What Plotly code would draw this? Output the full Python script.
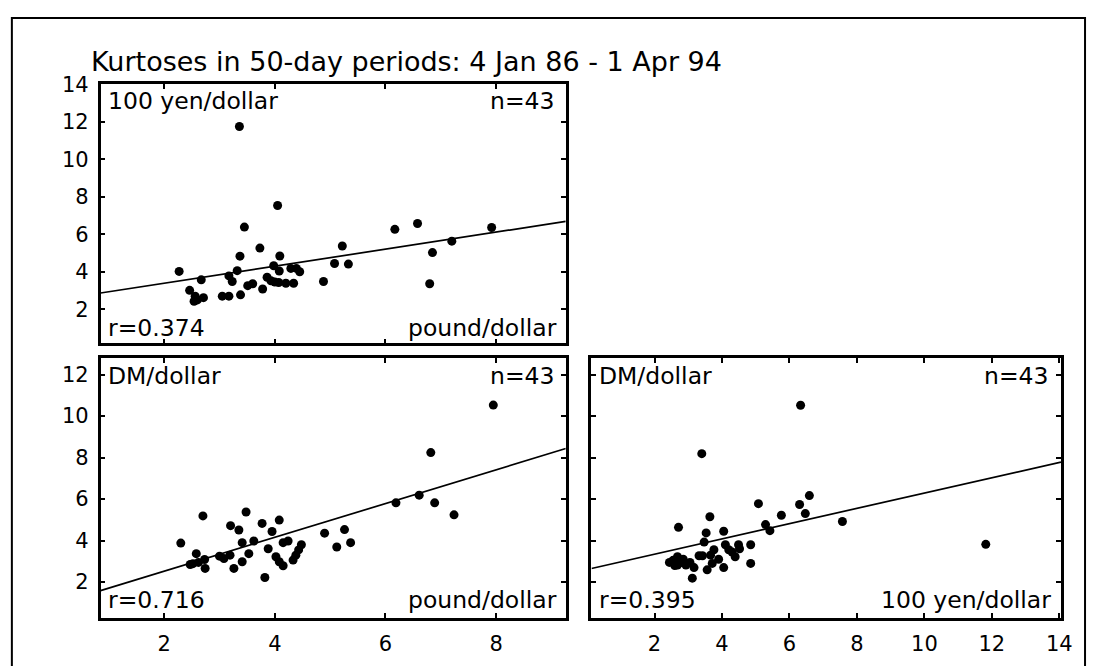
import plotly.graph_objects as go

# ---------------- data ----------------
# Panel A: x = pound/dollar kurtosis, y = 100 yen/dollar kurtosis
pound_a = [3.36, 4.05, 3.45, 3.73, 3.37, 4.09, 5.22, 2.27, 2.67, 2.46,
           2.56, 2.54, 2.71, 3.05, 3.17, 3.38, 3.17, 3.23, 3.32, 3.51,
           3.60, 3.78, 3.86, 3.93, 4.07, 3.98, 4.08, 4.20, 4.34, 4.29,
           4.39, 4.45, 4.88, 5.08, 5.33, 6.17, 6.58, 6.85, 6.80, 7.20,
           7.92, 2.60, 4.00]
yen_a = [11.74, 7.53, 6.38, 5.26, 4.83, 4.84, 5.37, 4.02, 3.57, 3.01,
         2.70, 2.43, 2.62, 2.70, 2.70, 2.77, 3.78, 3.48, 4.06, 3.26,
         3.36, 3.08, 3.71, 3.52, 3.43, 4.32, 4.04, 3.39, 3.39, 4.18,
         4.18, 4.00, 3.48, 4.44, 4.41, 6.26, 6.57, 5.02, 3.36, 5.63,
         6.36, 2.50, 3.45]

# Panel B: x = pound/dollar kurtosis, y = DM/dollar kurtosis
pound_b = [2.70, 3.48, 2.30, 3.20, 3.35, 3.77, 4.08, 3.95, 3.41, 3.62,
           3.88, 4.15, 4.24, 2.58, 2.52, 2.47, 2.73, 2.74, 3.08, 3.19,
           3.26, 3.41, 3.53, 4.02, 4.08, 4.15, 4.33, 4.38, 4.43, 4.48,
           3.82, 4.90, 5.26, 5.12, 5.37, 7.95, 6.82, 6.19, 6.61, 6.89,
           7.24, 2.62, 3.00]
dm_b = [5.19, 5.38, 3.88, 4.72, 4.51, 4.83, 4.99, 4.44, 3.90, 3.98,
        3.61, 3.90, 3.98, 3.37, 2.89, 2.85, 3.09, 2.66, 3.14, 3.30,
        2.66, 2.98, 3.37, 3.22, 2.98, 2.79, 3.06, 3.30, 3.55, 3.80,
        2.22, 4.36, 4.53, 3.69, 3.90, 10.53, 8.24, 5.82, 6.19, 5.82,
        5.24, 2.95, 3.25]

# Panel C: x = 100 yen/dollar kurtosis, y = DM/dollar kurtosis
yen_c = [3.40, 2.71, 3.64, 5.08, 5.76, 5.29, 5.42, 3.53, 4.05, 3.47,
         3.76, 3.66, 4.10, 4.20, 4.49, 4.52, 4.85, 4.39, 4.85, 4.05,
         3.32, 3.42, 2.44, 2.68, 2.68, 2.93, 3.17, 3.56, 3.12, 6.30,
         6.33, 6.59, 6.47, 7.57, 11.82, 3.71, 2.55, 2.85, 2.80, 3.05,
         3.90, 4.30, 2.60]
dm_c = [8.19, 4.64, 5.15, 5.78, 5.22, 4.77, 4.48, 4.37, 4.45, 3.93,
        3.56, 3.30, 3.80, 3.56, 3.80, 3.61, 3.80, 3.22, 2.90, 2.70,
        3.27, 3.27, 2.95, 3.22, 2.82, 2.82, 2.70, 2.59, 2.19, 5.74,
        10.52, 6.17, 5.30, 4.92, 3.82, 2.90, 3.05, 3.10, 2.95, 2.95,
        3.10, 3.45, 2.80]

# fitted regression lines (intercept, slope) as drawn
fit_a = (2.48, 0.454)
fit_b = (0.90, 0.814)
fit_c = (2.61, 0.368)

titles = ["Kurtoses in 50-day periods: 4 Jan 86 - 1 Apr 94"]
panel_y_names = ["100 yen/dollar", "DM/dollar", "DM/dollar"]
panel_x_names = ["pound/dollar", "pound/dollar", "100 yen/dollar"]
panel_r = ["r=0.374", "r=0.716", "r=0.395"]
panel_n = ["n=43", "n=43", "n=43"]
x_ticks_pound = [2, 4, 6, 8]
x_ticks_yen = [2, 4, 6, 8, 10, 12, 14]
y_ticks_a = [2, 4, 6, 8, 10, 12, 14]
y_ticks_b = [2, 4, 6, 8, 10, 12]

# ---------------- layout geometry ----------------
W, H = 1100, 666
FONT = "DejaVu Sans"


def px(x):
    return x / W


def py(y):
    return 1 - y / H


xr_pound = [0.85, 9.26]
xr_yen = [0.13, 14.05]
yr_top = [0.18, 14.02]
yr_bot = [0.28, 12.79]

fig = go.Figure()

panels = [
    (pound_a, yen_a, fit_a, "x", "y", xr_pound),
    (pound_b, dm_b, fit_b, "x2", "y2", xr_pound),
    (yen_c, dm_c, fit_c, "x3", "y3", xr_yen),
]
for xs, ys, (b0, b1), xa, ya, xr in panels:
    lx = [xr[0], xr[1]]
    fig.add_trace(go.Scatter(x=lx, y=[b0 + b1 * v for v in lx], mode="lines",
                             line=dict(color="black", width=1.7),
                             xaxis=xa, yaxis=ya, showlegend=False,
                             hoverinfo="skip"))
    fig.add_trace(go.Scatter(x=xs, y=ys, mode="markers",
                             marker=dict(color="black", size=9),
                             xaxis=xa, yaxis=ya, showlegend=False))

axis_common = dict(showline=True, linecolor="black", linewidth=2.5,
                   mirror="ticks", ticks="inside", ticklen=5, tickwidth=1.5,
                   tickcolor="black", showgrid=False, zeroline=False,
                   tickfont=dict(family=FONT, size=21, color="black"))

fig.update_layout(
    width=W, height=H, margin=dict(l=0, r=0, t=0, b=0),
    paper_bgcolor="white", plot_bgcolor="white",
    font=dict(family=FONT, color="black"),
    xaxis=dict(domain=[px(101.7), px(572)], range=xr_pound,
               tickvals=x_ticks_pound, showticklabels=False,
               anchor="y", **axis_common),
    yaxis=dict(domain=[py(338), py(74)], range=yr_top,
               tickvals=y_ticks_a, anchor="x", ticklabelstandoff=5,
               **axis_common),
    xaxis2=dict(domain=[px(101.7), px(572)], range=xr_pound,
                tickvals=x_ticks_pound, anchor="y2", ticklabelstandoff=5,
                **axis_common),
    yaxis2=dict(domain=[py(617), py(353)], range=yr_bot,
                tickvals=y_ticks_b, anchor="x2", ticklabelstandoff=5,
                **axis_common),
    xaxis3=dict(domain=[px(598), px(1072.7)], range=xr_yen,
                tickvals=x_ticks_yen, anchor="y3", ticklabelstandoff=5,
                **axis_common),
    yaxis3=dict(domain=[py(617), py(353)], range=yr_bot,
                tickvals=y_ticks_b, showticklabels=False, anchor="x3",
                **axis_common),
)

ann = []


def text(t, x, y, xanchor, size=23.5):
    ann.append(dict(text=t, x=px(x), y=py(y), xref="paper", yref="paper",
                    xanchor=xanchor, yanchor="middle", showarrow=False,
                    font=dict(family=FONT, size=size, color="black")))


# title
text(titles[0], 90, 51, "left", size=27)

# panel labels: (left x, right x, top y, bottom y)
boxes = [(107, 565, 92, 322), (107, 565, 371, 599), (604, 1065, 371, 599)]
for i, (xl, xrr, yt, yb) in enumerate(boxes):
    text(panel_y_names[i], xl, yt, "left")
    text(panel_n[i], xrr - 2, yt, "right")
    text(panel_r[i], xl, yb, "left")
    text(panel_x_names[i], xrr, yb, "right")

fig.update_layout(annotations=ann)

# outer page frame
fig.add_shape(type="rect", xref="paper", yref="paper",
              x0=px(12), x1=px(1097), y0=py(680), y1=py(7),
              line=dict(color="black", width=2))

fig.write_html("out.html")
